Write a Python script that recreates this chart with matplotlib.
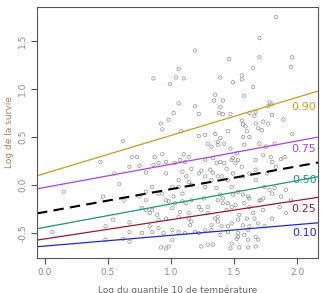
import matplotlib
matplotlib.use("Agg")
import matplotlib.pyplot as plt

# scatter data: log of the 10% temperature quantile vs log of survival
x_obs = [1.19, 1.06, 0.86, 1.04, 1.10, 0.99, 1.39, 1.35, 1.34, 1.41, 1.06, 1.19, 1.02, 1.22, 1.38,
         1.39, 0.98, 0.92, 0.93, 1.08, 1.83, 1.70, 1.46, 1.70, 1.96, 1.95, 1.65, 1.56, 1.49, 1.56,
         1.65, 1.58, 1.78, 1.80, 1.77, 1.47, 1.41, 1.62, 1.67, 1.66, 1.80, 1.89, 1.56, 1.57, 1.67,
         1.73, 1.77, 1.59, 1.69, 1.72, 1.45, 0.62, 0.44, 0.69, 0.55, 0.67, 0.59, 0.15, 0.46, 0.63,
         0.54, 0.67, 0.48, 0.06, 0.67, 0.48, 0.62, 0.67, 0.75, 0.80, 0.90, 0.87, 0.80, 0.80, 1.22,
         1.27, 1.35, 1.39, 1.29, 1.32, 1.37, 1.42, 0.93, 1.03, 1.11, 0.96, 0.73, 0.86, 1.39, 1.36,
         1.24, 1.31, 1.33, 1.16, 1.27, 1.09, 1.12, 1.14, 1.32, 1.40, 1.36, 1.39, 1.41, 1.06, 1.09,
         1.02, 0.93, 0.80, 0.75, 0.98, 1.09, 1.12, 1.26, 1.22, 1.24, 1.29, 1.01, 1.07, 0.85, 0.77,
         0.89, 0.96, 1.14, 1.16, 1.15, 1.35, 1.37, 1.32, 1.40, 0.83, 0.90, 0.77, 0.85, 0.94, 1.06,
         1.19, 1.27, 1.39, 1.01, 0.96, 0.92, 0.98, 1.24, 1.29, 1.33, 1.60, 1.57, 1.62, 1.96, 1.47,
         1.52, 1.49, 1.53, 1.51, 1.58, 1.70, 1.75, 1.82, 1.73, 1.67, 1.87, 1.90, 1.80, 1.44, 1.56,
         1.62, 1.67, 1.49, 1.57, 1.45, 1.67, 1.74, 1.78, 1.82, 1.91, 1.53, 1.49, 1.57, 1.62, 1.70,
         1.73, 1.80, 1.87, 1.45, 1.51, 1.62, 1.73, 1.86, 1.44, 1.54, 1.60, 1.66, 1.80, 1.48, 1.57,
         1.62, 1.69, 1.45, 1.53, 1.58, 1.52, 1.61, 1.67, 1.48, 1.47, 1.54, 1.61, 1.67, 1.37, 1.14,
         1.10, 1.07, 1.27, 1.33, 1.42, 1.48, 1.22, 1.37, 1.16, 1.27, 1.48, 1.61, 1.37, 1.41, 1.48,
         1.58, 1.71, 1.65, 1.53, 1.37, 1.29, 1.45, 1.61, 1.74, 1.32, 1.22, 1.01, 1.11, 1.53, 1.69,
         1.95, 1.91, 1.79, 1.76, 1.83, 0.96, 0.90, 1.01, 1.06, 0.96, 0.85, 0.83, 0.90, 1.06, 1.14,
         1.16, 1.03]
y_obs = [1.40, 1.21, 1.11, 1.12, 1.11, 1.05, 1.12, 0.94, 0.88, 0.88, 0.85, 0.82, 0.75, 0.74, 0.75,
         0.81, 0.68, 0.64, 0.58, 0.56, 1.75, 1.53, 1.31, 1.33, 1.33, 1.23, 1.22, 1.14, 1.07, 1.10,
         1.02, 0.93, 0.86, 0.84, 0.82, 0.74, 0.74, 0.75, 0.76, 0.72, 0.73, 0.68, 0.67, 0.63, 0.64,
         0.66, 0.64, 0.61, 0.59, 0.57, 0.56, 0.46, 0.24, 0.29, 0.12, 0.19, 0.01, -0.07, -0.12, -0.16,
         -0.36, -0.39, -0.43, -0.49, -0.49, -0.57, -0.56, -0.59, 0.20, 0.13, 0.23, 0.29, -0.16, -0.26, 0.51,
         0.52, 0.53, 0.49, 0.43, 0.40, 0.42, 0.43, 0.32, 0.23, 0.24, 0.24, 0.29, 0.21, 0.24, 0.23,
         0.15, 0.16, 0.13, 0.17, 0.09, 0.14, 0.09, 0.03, 0.05, 0.09, -0.03, -0.10, -0.14, -0.02, -0.09,
         -0.12, -0.09, -0.07, -0.12, -0.17, -0.17, -0.19, -0.14, -0.23, -0.26, -0.23, -0.24, -0.28, -0.26, -0.24,
         -0.31, -0.35, -0.35, -0.38, -0.42, -0.35, -0.38, -0.42, -0.43, -0.43, -0.45, -0.50, -0.49, -0.50, -0.49,
         -0.49, -0.47, -0.52, -0.57, -0.66, -0.65, -0.64, -0.64, -0.62, -0.62, 0.56, 0.50, 0.50, 0.53, 0.38,
         0.33, 0.28, 0.26, 0.23, 0.42, 0.43, 0.40, 0.43, 0.31, 0.26, 0.27, 0.29, 0.24, 0.17, 0.19,
         0.12, 0.16, 0.12, 0.09, 0.05, 0.05, -0.02, -0.05, -0.03, -0.05, -0.07, -0.10, -0.10, -0.14, -0.16,
         -0.14, -0.09, -0.12, -0.19, -0.21, -0.23, -0.26, -0.23, -0.26, -0.31, -0.35, -0.35, -0.35, -0.40, -0.42,
         -0.43, -0.40, -0.49, -0.50, -0.52, -0.56, -0.57, -0.54, -0.61, -0.66, -0.65, -0.65, -0.64, 0.45, 0.29,
         0.32, 0.26, 0.26, 0.28, 0.23, 0.26, 0.12, 0.09, 0.00, -0.02, -0.02, -0.12, -0.16, -0.19, -0.23,
         -0.19, -0.16, -0.29, -0.36, -0.33, -0.29, -0.43, -0.47, -0.43, -0.47, -0.50, -0.47, -0.50, -0.54, -0.57,
         -0.16, -0.29, 0.29, 0.12, 0.19, -0.16, -0.09, -0.02, 0.05, 0.12, -0.02, -0.29, -0.36, -0.33, -0.29,
         -0.16, -0.19]

# quantile regression lines (intercept, slope) and the mean regression
quantiles = ["0.90", "0.75", "0.50", "0.25", "0.10"]
q_intercepts = [0.121, -0.025, -0.44, -0.561, -0.636]
q_slopes = [0.396, 0.242, 0.243, 0.200, 0.112]
mean_intercept = -0.281
mean_slope = 0.238

q_colors = ["#D09A18", "#B040E8", "#1A9870", "#A01828", "#1E2AD8"]
label_y = [0.81, 0.375, 0.05, -0.25, -0.50]

fig = plt.figure(figsize=(3.22, 2.93), dpi=100)
ax = fig.add_axes([0.115, 0.1195, 0.8726, 0.8567])

ax.scatter(x_obs, y_obs, s=6, facecolors="none", edgecolors="#909090", linewidths=0.5)

xlim = (-0.0625, 2.164)
ax.set_xlim(xlim)
ax.set_ylim(-0.76, 1.854)

for q, a, b, c, ly in zip(quantiles, q_intercepts, q_slopes, q_colors, label_y):
    ax.plot(xlim, [a + b * xlim[0], a + b * xlim[1]], color=c, lw=0.9)
    ax.text(2.152, ly, q, color=c, fontsize=8, ha="right", va="center")

ax.plot(xlim, [mean_intercept + mean_slope * xlim[0], mean_intercept + mean_slope * xlim[1]],
        color="black", lw=1.5, ls=(0, (5, 3)))

ax.set_xticks([0.0, 0.5, 1.0, 1.5, 2.0])
ax.set_yticks([-0.5, 0.0, 0.5, 1.0, 1.5])
ax.set_yticklabels(["-0.5", "0.0", "0.5", "1.0", "1.5"], rotation=90, va="center")
ax.tick_params(direction="out", length=4, width=0.8, labelsize=6.5,
               colors="#555555", labelcolor="#8888a0", pad=3)
for s in ax.spines.values():
    s.set_color("#555555")
    s.set_linewidth(0.8)

ax.set_xlabel("Log du quantile 10 de température", fontsize=6.5, color="#666666", labelpad=6)
ax.set_ylabel("Log de la survie", fontsize=6.5, color="#9a8660", labelpad=3)

fig.savefig("out.png", dpi=100)
